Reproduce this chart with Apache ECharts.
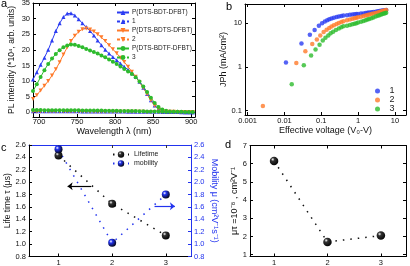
<!DOCTYPE html>
<html><head><meta charset="utf-8">
<script src="https://cdn.jsdelivr.net/npm/echarts@6/dist/echarts.min.js"></script>
<style>html,body{margin:0;padding:0;background:#fff}#c{width:410px;height:266px}</style>
</head><body><div id="c"></div>
<script>
// ---------- Panel a: PL spectra ----------
const wavelengths = [692,697,702,707,712,717,722,727,732,737,742,747,752,757,762,767,772,777,782,787,792,797,802,807,812,817,822,827,832,837,842,847,852,857,862,867,872,877,882,887,892,897,902];
const plBDT  = [10.5,12.8,15.2,17.5,20.0,23.0,26.0,28.5,30.5,31.6,31.7,31.0,29.8,28.5,27.3,26.0,24.6,23.0,21.5,20.0,18.8,17.7,16.7,15.6,14.6,13.6,12.5,11.3,9.8,7.9,5.9,3.9,2.2,1.1,0.5,0.3,0.2,0.15,0.1,0.1,0.05,0.05,0.05];
const plBDTS = [4.3,5.5,7.0,8.5,10.0,11.8,13.8,16.0,18.5,20.8,22.8,24.5,25.8,26.6,26.8,26.5,25.9,25.0,24.0,22.8,21.5,20.2,18.9,17.5,16.1,14.6,13.0,11.4,9.7,7.8,5.8,3.8,2.1,1.0,0.5,0.3,0.2,0.15,0.1,0.1,0.05,0.05,0.05];
const plBDTF = [6.8,9.0,11.3,13.5,15.5,17.2,18.7,19.9,20.8,21.4,21.7,21.6,21.2,20.8,20.3,19.8,19.3,18.8,18.2,17.6,16.9,16.2,15.5,14.7,13.9,13.1,12.3,11.2,9.9,8.3,6.5,4.7,3.0,1.7,0.9,0.5,0.3,0.2,0.15,0.1,0.1,0.05,0.05];
const pl1 = [0.35,0.35,0.35,0.35,0.35,0.35,0.35,0.35,0.35,0.35,0.35,0.35,0.35,0.3,0.3,0.3,0.3,0.3,0.3,0.3,0.25,0.25,0.25,0.25,0.25,0.2,0.2,0.2,0.2,0.2,0.15,0.15,0.15,0.15,0.1,0.1,0.1,0.1,0.1,0.05,0.05,0.05,0.05];
const pl2 = [0.25,0.25,0.25,0.25,0.25,0.25,0.25,0.25,0.25,0.25,0.25,0.25,0.25,0.25,0.25,0.2,0.2,0.2,0.2,0.2,0.2,0.2,0.2,0.2,0.15,0.15,0.15,0.15,0.15,0.15,0.1,0.1,0.1,0.1,0.1,0.1,0.05,0.05,0.05,0.05,0.05,0.05,0.05];
const pl3 = [0.75,0.75,0.75,0.7,0.7,0.7,0.7,0.7,0.7,0.65,0.65,0.65,0.65,0.6,0.6,0.6,0.6,0.55,0.55,0.5,0.5,0.5,0.5,0.45,0.45,0.4,0.4,0.4,0.35,0.35,0.3,0.3,0.3,0.25,0.25,0.2,0.2,0.2,0.15,0.15,0.1,0.1,0.1];
const aXTicks = [700,750,800,850,900];
const aYTicks = [0,5,10,15,20,25,30,35];
const aNames = ['P(DTS-BDT-DFBT)','1','P(DTS-BDTS-DFBT)','2','P(DTS-BDTF-DFBT)','3'];

// ---------- Panel b: Jph vs effective voltage (log-log) ----------
const bV1 = [0.011,0.029,0.049,0.066,0.086,0.105,0.125,0.145,0.165,0.19,0.22,0.26,0.3,0.35,0.4,0.5,0.6,0.7,0.8,0.9,1.0,1.2,1.4,1.6,1.8,2.0,2.3,2.6,3.0,3.4,3.8,4.2,4.6,5.0,5.4,5.8];
const bJ1 = [1.25,3.4,5.4,6.9,8.6,9.8,10.8,11.5,12.1,12.7,13.2,13.7,14.1,14.4,14.7,15.0,15.3,15.5,15.7,15.9,16.0,16.3,16.5,16.8,17.0,17.2,17.5,17.8,18.1,18.4,18.7,18.9,19.1,19.3,19.5,19.6];
const bV2 = [0.0026,0.021,0.037,0.057,0.076,0.094,0.116,0.14,0.165,0.19,0.22,0.26,0.3,0.35,0.4,0.5,0.6,0.7,0.8,0.9,1.0,1.2,1.4,1.6,1.8,2.0,2.3,2.6,3.0,3.4,3.8,4.2,4.6,5.0,5.4,5.8];
const bJ2 = [0.128,1.23,2.27,3.33,4.2,5.15,6.2,7.0,7.7,8.3,8.9,9.5,10.0,10.5,10.9,11.5,12.0,12.4,12.8,13.1,13.4,13.9,14.4,14.8,15.2,15.5,16.0,16.4,16.9,17.4,17.8,18.2,18.6,19.0,19.3,19.6];
const bV3 = [0.0158,0.0336,0.053,0.070,0.09,0.11,0.13,0.155,0.18,0.21,0.25,0.3,0.35,0.4,0.5,0.6,0.7,0.8,0.9,1.0,1.2,1.4,1.6,1.8,2.0,2.3,2.6,3.0,3.4,3.8,4.2,4.6,5.0,5.4,5.8];
const bJ3 = [0.40,1.09,1.81,2.48,3.2,3.97,4.6,5.2,5.8,6.3,6.9,7.5,8.0,8.4,8.6,9.0,9.3,9.6,9.9,10.2,10.7,11.1,11.5,11.9,12.3,12.8,13.3,14.0,14.5,15.0,15.5,15.9,16.3,16.6,17.0];
const bNames = ['1','2','3'];
const bXTicks = [0.001,0.01,0.1,1,10];
const bXLabels = ['0.001','0.01','0.1','1','10'];
const bYTicks = [0.1,1,10];
const bYLabels = ['0.1','1','10'];
const bXRange = [0.00085, 20];
const bYRange = [0.08, 27];

// ---------- Panel c: lifetime & mobility ----------
const devices = [1,2,3];
const lifetime = [2.43,1.65,1.14];
const mobility = [2.53,1.02,1.80];
const cYTicks = [0.8,1.0,1.2,1.4,1.6,1.8,2.0,2.2,2.4,2.6];
const arrowLeft  = [[1.61,1.936],[1.17,1.936]];
const arrowRight = [[2.79,1.61],[3.17,1.61]];

// ---------- Panel d: mu-tau ----------
const mutau = [6.15,1.70,2.05];
const dYTicks = [1,2,3,4,5,6,7];

const FONT = '"Liberation Sans", Arial, sans-serif';
const BLUE = '#2b3cf2', ORANGE = '#ff7a2a', GREEN = '#2dbb2d', CBLUE = '#2233ee';

function pairs(x, y) { return x.map((v, i) => [v, y[i]]); }
function sphere(c) {
  return {type:'radial', x:0.35, y:0.32, r:0.75,
    colorStops:[{offset:0,color:'#ffffff'},{offset:0.28,color:c},{offset:1,color:'#000000'}]};
}
function axis(o) {
  const lineColor = o.lineColor || '#000';
  const a = {
    type: o.type || 'value', gridIndex: o.grid, position: o.position,
    min: o.min, max: o.max,
    axisLine: {show:true, onZero:false, lineStyle:{color:lineColor, width:1}},
    axisTick: {show:true, inside:true, length:3, lineStyle:{color: o.tickColor || lineColor, width:1}},
    axisLabel: {show: !!o.labels, fontSize: 7.5, color: o.labelColor || '#111', fontFamily: FONT, margin: o.margin != null ? o.margin : 2,
      formatter: o.formatter},
    splitLine: {show:false}, minorTick:{show:false}
  };
  if (o.custom) { a.axisTick.customValues = o.custom; a.axisLabel.customValues = o.custom; }
  if (o.name) {
    a.name = o.name; a.nameLocation = 'middle'; a.nameGap = o.nameGap;
    if (o.nameRotate != null) a.nameRotate = o.nameRotate;
    a.nameTextStyle = {fontSize: o.nameSize || 9, color: o.nameColor || '#111', fontFamily: FONT};
  }
  return a;
}
const fix1 = v => v.toFixed(1);

const grids = [
  {left:33, top:3, width:162, height:114},
  {left:245, top:4, width:161, height:111},
  {left:29, top:145, width:162, height:111.5},
  {left:250, top:145.5, width:156, height:111}
].map(g => Object.assign({outerBoundsMode:'none', containLabel:false}, g));

const xAxes = [
  axis({grid:0, position:'bottom', min:692, max:905, custom:aXTicks, labels:true, margin:1, name:'Wavelength λ (nm)', nameGap:7.5}),
  axis({grid:0, position:'top', min:692, max:905, custom:aXTicks}),
  axis({type:'log', grid:1, position:'bottom', min:bXRange[0], max:bXRange[1], name:'Effective voltage (V₀-V)', nameGap:11}),
  axis({type:'log', grid:1, position:'top', min:bXRange[0], max:bXRange[1]}),
  axis({grid:2, position:'bottom', min:0.45, max:3.47, custom:devices, labels:true, margin:2}),
  axis({grid:2, position:'top', min:0.45, max:3.47, custom:devices, lineColor:CBLUE, tickColor:'#333'}),
  axis({grid:3, position:'bottom', min:0.55, max:3.47, custom:devices, labels:true, margin:2}),
  axis({grid:3, position:'top', min:0.55, max:3.47, custom:devices})
];
const yAxes = [
  axis({grid:0, position:'left', min:-1.5, max:35, custom:aYTicks, labels:true, margin:3, name:'PL intensity (*10⁴, arb. units)', nameGap:17, nameSize:8.5}),
  axis({grid:0, position:'right', min:-1.5, max:35, custom:aYTicks}),
  axis({type:'log', grid:1, position:'left', min:bYRange[0], max:bYRange[1], name:'JPh (mA/cm²)', nameGap:17}),
  axis({type:'log', grid:1, position:'right', min:bYRange[0], max:bYRange[1]}),
  axis({grid:2, position:'left', min:0.8, max:2.6, custom:cYTicks, labels:true, formatter:fix1, margin:3, name:'Life time τ (μs)', nameGap:14, nameSize:8.5}),
  axis({grid:2, position:'right', min:0.8, max:2.6, custom:cYTicks, labels:true, formatter:fix1, margin:3, lineColor:CBLUE, labelColor:CBLUE, name:'Mobility μ (cm²V⁻¹s⁻¹)', nameGap:19, nameRotate:-90, nameColor:CBLUE}),
  axis({grid:3, position:'left', min:0.9, max:7, custom:dYTicks, labels:true, margin:3, name:'μτ =10⁻⁸ , cm²V⁻¹', nameGap:10, nameSize:9}),
  axis({grid:3, position:'right', min:0.9, max:7, custom:dYTicks})
];

function plLine(name, data, color, symbol, rotate, dashed) {
  return {type:'line', name, xAxisIndex:0, yAxisIndex:0, data:pairs(wavelengths, data),
    symbol, symbolSize:4, symbolRotate:rotate, showSymbol:true, animation:false,
    itemStyle:{color}, lineStyle:{color, width:1, type: dashed ? [3,2] : 'solid'}, z: dashed ? 3 : 2};
}
const series = [
  plLine(aNames[0], plBDT, BLUE, 'triangle', 0, false),
  plLine(aNames[1], pl1, BLUE, 'triangle', 0, true),
  plLine(aNames[2], plBDTS, ORANGE, 'triangle', 180, false),
  plLine(aNames[3], pl2, ORANGE, 'triangle', 180, true),
  plLine(aNames[4], plBDTF, GREEN, 'circle', 0, false),
  plLine(aNames[5], pl3, GREEN, 'circle', 0, true),
  {type:'scatter', name:'b1', xAxisIndex:2, yAxisIndex:2, data:pairs(bV1,bJ1), symbolSize:4.5, itemStyle:{color:BLUE}, animation:false},
  {type:'scatter', name:'b2', xAxisIndex:2, yAxisIndex:2, data:pairs(bV2,bJ2), symbolSize:4.5, itemStyle:{color:ORANGE}, animation:false},
  {type:'scatter', name:'b3', xAxisIndex:2, yAxisIndex:2, data:pairs(bV3,bJ3), symbolSize:4.5, itemStyle:{color:GREEN}, animation:false},
  {type:'line', name:'Lifetime', xAxisIndex:4, yAxisIndex:4, data:pairs(devices, lifetime), symbol:'circle', symbolSize:8,
    itemStyle:{color:sphere('#333')}, lineStyle:{color:'#111', width:1.5, type:[1.5,6]}, animation:false, z:4,
    markLine:{silent:true, symbol:['none','arrow'], symbolSize:[6,5], label:{show:false}, lineStyle:{color:'#000', width:1.2, type:'solid'},
      data:[[{coord:arrowLeft[0]},{coord:arrowLeft[1]}]]}},
  {type:'line', name:'mobility', xAxisIndex:4, yAxisIndex:5, data:pairs(devices, mobility), symbol:'circle', symbolSize:8,
    itemStyle:{color:sphere(CBLUE)}, lineStyle:{color:CBLUE, width:1.5, type:[1.5,6]}, animation:false, z:4,
    markLine:{silent:true, symbol:['none','arrow'], symbolSize:[6,5], label:{show:false}, lineStyle:{color:CBLUE, width:1.2, type:'solid'},
      data:[[{coord:arrowRight[0]},{coord:arrowRight[1]}]]}},
  {type:'line', name:'mutau', xAxisIndex:6, yAxisIndex:6, data:pairs(devices, mutau), symbol:'circle', symbolSize:8.5,
    itemStyle:{color:sphere('#333')}, lineStyle:{color:'#111', width:1.5, type:[1.5,6]}, animation:false, z:4}
];

const panelLetters = [
  {type:'text', left:1, top:-2, style:{text:'a', font:'11px '+FONT, fill:'#000'}},
  {type:'text', left:226, top:1, style:{text:'b', font:'11px '+FONT, fill:'#000'}},
  {type:'text', left:1, top:142, style:{text:'c', font:'11px '+FONT, fill:'#000'}},
  {type:'text', left:225, top:139, style:{text:'d', font:'11px '+FONT, fill:'#000'}}
];

const option = {
  backgroundColor:'#fff',
  animation:false,
  grid: grids, xAxis: xAxes, yAxis: yAxes, series,
  legend: [
    {data:aNames, orient:'vertical', left:116, top:9, itemWidth:12, itemHeight:6, itemGap:2, padding:0,
      textStyle:{fontSize:6.5, color:'#222', fontFamily:FONT, lineHeight:6.5, padding:[0,0,0,-2]}, selectedMode:false},
    {data:['b1','b2','b3'], orient:'vertical', left:375, top:86.5, itemWidth:14, itemHeight:5, itemGap:0, padding:0, icon:'circle',
      formatter: n => bNames[['b1','b2','b3'].indexOf(n)],
      textStyle:{fontSize:9, color:'#222', fontFamily:FONT, lineHeight:8}, selectedMode:false},
    {data:['Lifetime','mobility'], orient:'vertical', left:112, top:151, itemWidth:16, itemHeight:8, itemGap:2, padding:0,
      textStyle:{fontSize:7, color:'#222', fontFamily:FONT}, selectedMode:false}
  ],
  graphic: panelLetters
};
const chart = echarts.init(document.getElementById('c'), null, {renderer:'canvas'});
chart.setOption(option);

// Panel b tick labels, placed at the log-axis tick positions through the chart's own scale
const bLabelEls = [];
bXTicks.forEach((t, i) => {
  const p = chart.convertToPixel({xAxisIndex:2, yAxisIndex:2}, [t, bYRange[0]]);
  bLabelEls.push({type:'text', x:p[0], y:p[1] + 2, silent:true,
    style:{text:bXLabels[i], font:'7.5px '+FONT, fill:'#111', align:'center', verticalAlign:'top', textAlign:'center', textVerticalAlign:'top'}});
});
bYTicks.forEach((t, i) => {
  const p = chart.convertToPixel({xAxisIndex:2, yAxisIndex:2}, [bXRange[0], t]);
  bLabelEls.push({type:'text', x:p[0] - 3, y:p[1], silent:true,
    style:{text:bYLabels[i], font:'7.5px '+FONT, fill:'#111', align:'right', verticalAlign:'middle', textAlign:'right', textVerticalAlign:'middle'}});
});
chart.setOption({graphic: panelLetters.concat(bLabelEls)});
</script></body></html>
